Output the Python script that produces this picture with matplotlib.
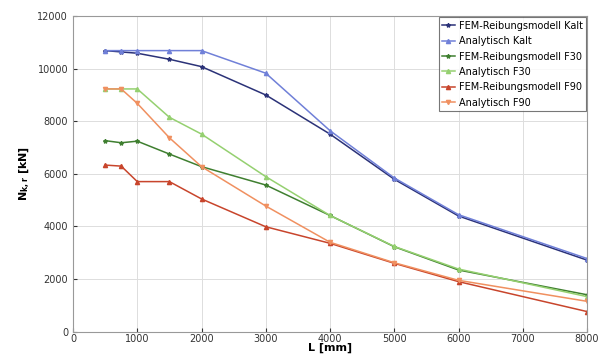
import matplotlib
matplotlib.use("Agg")
import matplotlib.pyplot as plt

L = [500, 750, 1000, 1500, 2000, 3000, 4000, 5000, 6000, 8000]

fem_kalt = [10700, 10650, 10600, 10370, 10090, 9010, 7520, 5800, 4400, 2720]
ana_kalt = [10700, 10700, 10700, 10700, 10700, 9840, 7650, 5850, 4450, 2780]
fem_f30 = [7270, 7190, 7250, 6760, 6280, 5580, 4420, 3230, 2343, 1400]
ana_f30 = [9240, 9240, 9240, 8160, 7520, 5900, 4420, 3240, 2380, 1330]
fem_f90 = [6340, 6300, 5710, 5710, 5050, 3990, 3360, 2598, 1900, 760]
ana_f90 = [9240, 9240, 8690, 7380, 6280, 4780, 3400, 2620, 1950, 1150]

labels = ["FEM-Reibungsmodell Kalt", "Analytisch Kalt",
          "FEM-Reibungsmodell F30", "Analytisch F30",
          "FEM-Reibungsmodell F90", "Analytisch F90"]

xticks = [0, 1000, 2000, 3000, 4000, 5000, 6000, 7000, 8000]
yticks = [0, 2000, 4000, 6000, 8000, 10000, 12000]

fig = plt.figure(figsize=(6.01, 3.56), dpi=100)
ax = fig.add_axes([0.1215, 0.0688, 0.8552, 0.8849])

series = [fem_kalt, ana_kalt, fem_f30, ana_f30, fem_f90, ana_f90]
colors = ["#2b3278", "#7080d8", "#3f7f30", "#95d070", "#c8452c", "#f09060"]
markers = ["*", "^", "*", "^", "^", "v"]
for s, c, m, lab in zip(series, colors, markers, labels):
    ax.plot(L, s, color=c, marker=m, markersize=3, linewidth=1.1, label=lab)

ax.set_xlim(0, 8000)
ax.set_ylim(0, 12000)
ax.set_xticks(xticks)
ax.set_yticks(yticks)
ax.tick_params(labelsize=7, colors="#333333", length=3, direction="in")
ax.tick_params(axis="x", pad=2)
ax.grid(True, color="#dddddd", linewidth=0.7)
for sp in ax.spines.values():
    sp.set_color("#999999")
ax.set_xlabel("L [mm]", fontsize=8, fontweight="bold", labelpad=-1)
ax.set_ylabel(r"$\mathbf{N_{k,r}}$ [kN]", fontsize=8, fontweight="bold", labelpad=4)

leg = ax.legend(loc="upper right", fontsize=7, frameon=True, fancybox=False,
                borderaxespad=0.1, handlelength=1.3, handletextpad=0.4,
                labelspacing=0.55, borderpad=0.35)
leg.get_frame().set_edgecolor("#555555")
leg.get_frame().set_linewidth(0.8)

fig.savefig("out.png", dpi=100)
